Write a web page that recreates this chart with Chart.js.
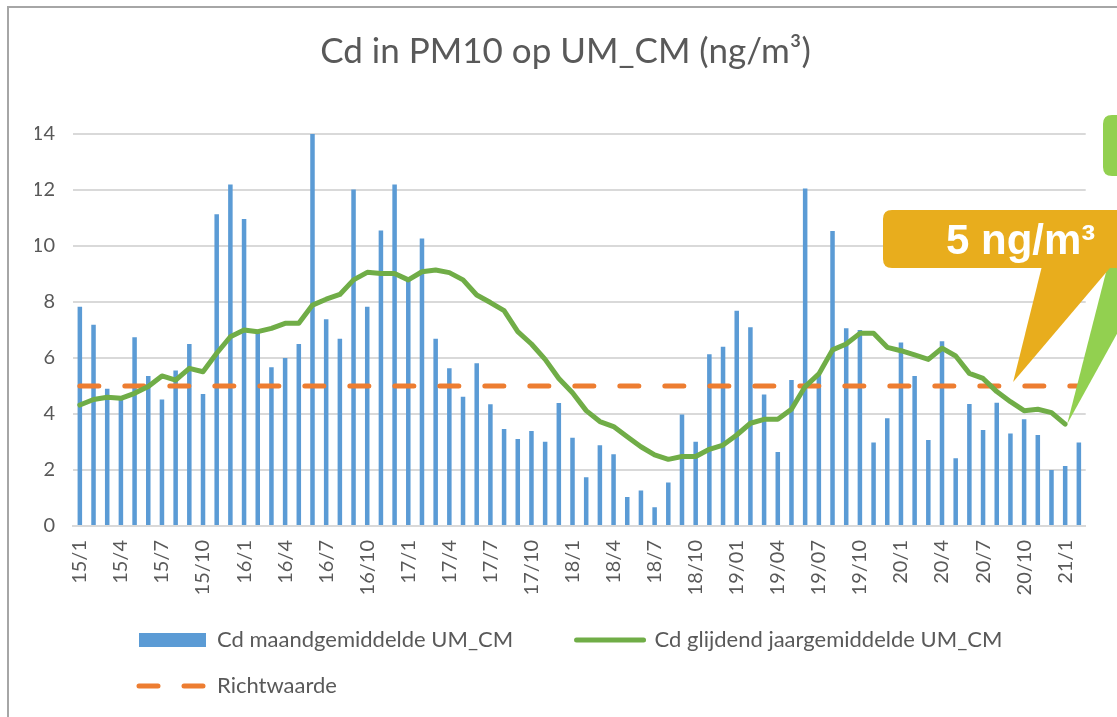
<!DOCTYPE html>
<html>
<head>
<meta charset="utf-8">
<script src="https://cdn.jsdelivr.net/npm/chart.js@4.4.0/dist/chart.umd.min.js"></script>
<style>
html,body{margin:0;padding:0;background:#ffffff;overflow:hidden}
canvas{display:block}
</style>
</head>
<body>
<canvas id="c" width="1117" height="717"></canvas>
<script>
// ---- data ----
const months = [
  '15/1','15/2','15/3','15/4','15/5','15/6','15/7','15/8','15/9','15/10','15/11','15/12',
  '16/1','16/2','16/3','16/4','16/5','16/6','16/7','16/8','16/9','16/10','16/11','16/12',
  '17/1','17/2','17/3','17/4','17/5','17/6','17/7','17/8','17/9','17/10','17/11','17/12',
  '18/1','18/2','18/3','18/4','18/5','18/6','18/7','18/8','18/9','18/10','18/11','18/12',
  '19/01','19/02','19/03','19/04','19/05','19/06','19/07','19/08','19/09','19/10','19/11','19/12',
  '20/1','20/2','20/3','20/4','20/5','20/6','20/7','20/8','20/9','20/10','20/11','20/12',
  '21/1','21/2'
];

const monthlyCd = [
  7.83, 7.19, 4.90, 4.64, 6.74, 5.36, 4.52, 5.55, 6.50, 4.71, 11.13, 12.20,
  10.96, 6.90, 5.67, 6.00, 6.50, 14.00, 7.38, 6.69, 12.02, 7.83, 10.55, 12.20,
  8.80, 10.27, 6.69, 5.63, 4.62, 5.81, 4.35, 3.46, 3.11, 3.39, 3.01, 4.39,
  3.15, 1.74, 2.88, 2.56, 1.04, 1.27, 0.67, 1.55, 3.98, 3.01, 6.13, 6.40,
  7.69, 7.10, 4.70, 2.64, 5.21, 12.05, 5.40, 10.54, 7.06, 7.00, 2.98, 3.85,
  6.55, 5.36, 3.07, 6.60, 2.42, 4.36, 3.43, 4.40, 3.30, 3.81, 3.25, 2.00,
  2.14, 2.98
];

const rollingCd = [
  4.32, 4.52, 4.60, 4.56, 4.74, 4.98, 5.36, 5.21, 5.63, 5.51, 6.17, 6.76,
  7.00, 6.94, 7.06, 7.24, 7.24, 7.89, 8.10, 8.27, 8.79, 9.06, 9.02, 9.02,
  8.79, 9.08, 9.14, 9.05, 8.79, 8.25, 7.98, 7.69, 6.94, 6.50, 5.95, 5.27,
  4.76, 4.12, 3.73, 3.55, 3.19, 2.83, 2.54, 2.38, 2.48, 2.48, 2.74, 2.89,
  3.25, 3.67, 3.81, 3.81, 4.17, 4.98, 5.43, 6.29, 6.50, 6.88, 6.88, 6.38,
  6.26, 6.11, 5.95, 6.35, 6.07, 5.45, 5.27, 4.80, 4.44, 4.12, 4.17, 4.05,
  3.64, null
];

const guideValue = [
  5, 5, 5, 5, 5, 5, 5, 5, 5, 5, 5, 5,
  5, 5, 5, 5, 5, 5, 5, 5, 5, 5, 5, 5,
  5, 5, 5, 5, 5, 5, 5, 5, 5, 5, 5, 5,
  5, 5, 5, 5, 5, 5, 5, 5, 5, 5, 5, 5,
  5, 5, 5, 5, 5, 5, 5, 5, 5, 5, 5, 5,
  5, 5, 5, 5, 5, 5, 5, 5, 5, 5, 5, 5,
  5, 5
];

const yTicks = [0, 2, 4, 6, 8, 10, 12, 14];
const seriesNames = ['Cd maandgemiddelde UM_CM', 'Cd glijdend jaargemiddelde UM_CM', 'Richtwaarde'];
const chartTitle = 'Cd in PM10 op UM_CM (ng/m³)';
const calloutText = '5 ng/m³';
const calloutGuideValue = 5;

// ---- styling ----
const FONT = "Lato, 'Noto Sans', 'Liberation Sans', sans-serif";
const TEXT = '#595959';
const GRID = '#D9D9D9';
Chart.defaults.font.family = FONT;
Chart.defaults.color = TEXT;

function roundRectPath(ctx, x, y, w, h, r) {
  ctx.beginPath();
  ctx.moveTo(x + r, y);
  ctx.lineTo(x + w - r, y);
  ctx.quadraticCurveTo(x + w, y, x + w, y + r);
  ctx.lineTo(x + w, y + h - r);
  ctx.quadraticCurveTo(x + w, y + h, x + w - r, y + h);
  ctx.lineTo(x + r, y + h);
  ctx.quadraticCurveTo(x, y + h, x, y + h - r);
  ctx.lineTo(x, y + r);
  ctx.quadraticCurveTo(x, y, x + r, y);
  ctx.closePath();
}

const decorPlugin = {
  id: 'decor',
  afterLayout(chart) {
    const lg = chart.legend;
    if (lg) {
      const h = lg.height;
      lg.left = 115;
      lg.top = 605;
      lg.bottom = 605 + h;
    }
  },
  beforeDraw(chart) {
    const ctx = chart.ctx;
    ctx.save();
    ctx.strokeStyle = '#A6A6A6';
    ctx.lineWidth = 2;
    ctx.strokeRect(8, 7, 1300, 900);
    ctx.restore();
  },
  afterDraw(chart) {
    const ctx = chart.ctx;
    const xs = chart.scales.x, ys = chart.scales.y;
    ctx.save();
    // green callout (cut off at the right edge)
    const lastIdx = rollingCd.length - 2;
    const gx = xs.getPixelForValue(lastIdx) + 2;
    const gy = ys.getPixelForValue(rollingCd[lastIdx]);
    ctx.fillStyle = '#92D050';
    roundRectPath(ctx, 1103, 115, 150, 61, 9);
    ctx.fill();
    ctx.beginPath();
    ctx.moveTo(gx, gy);
    ctx.lineTo(gx + 65, 170);
    ctx.lineTo(gx + 140, 170);
    ctx.closePath();
    ctx.fill();
    // orange callout
    const ox = xs.getPixelForValue(68.2);
    const oy = ys.getPixelForValue(calloutGuideValue) - 4;
    ctx.fillStyle = '#E8AD1D';
    roundRectPath(ctx, 883, 210, 260, 58, 9);
    ctx.fill();
    ctx.beginPath();
    ctx.moveTo(1043, 262);
    ctx.lineTo(ox, oy);
    ctx.lineTo(1115, 262);
    ctx.closePath();
    ctx.fill();
    ctx.fillStyle = '#FFFFFF';
    ctx.font = "bold 42px 'Liberation Sans', Arial, sans-serif";
    ctx.textAlign = 'left';
    ctx.textBaseline = 'alphabetic';
    ctx.fillText(calloutText, 946, 254);
    ctx.restore();
  }
};

const legendFont = { family: FONT, size: 22 };

new Chart(document.getElementById('c'), {
  type: 'bar',
  data: {
    labels: months,
    datasets: [
      {
        type: 'bar',
        label: seriesNames[0],
        data: monthlyCd,
        backgroundColor: '#5B9BD5',
        borderWidth: 0,
        barPercentage: 0.33,
        categoryPercentage: 1,
        order: 3
      },
      {
        type: 'line',
        label: seriesNames[1],
        data: rollingCd,
        borderColor: '#70AD47',
        backgroundColor: '#70AD47',
        borderWidth: 5,
        pointRadius: 0,
        pointHoverRadius: 0,
        tension: 0,
        borderJoinStyle: 'round',
        borderCapStyle: 'round',
        spanGaps: false,
        order: 1
      },
      {
        type: 'line',
        label: seriesNames[2],
        data: guideValue,
        borderColor: '#ED7D31',
        backgroundColor: '#ED7D31',
        borderWidth: 5,
        borderDash: [19, 26],
        borderCapStyle: 'round',
        pointRadius: 0,
        pointHoverRadius: 0,
        order: 2
      }
    ]
  },
  options: {
    responsive: false,
    animation: false,
    devicePixelRatio: 1,
    layout: { padding: { left: 35, right: 21, top: 0, bottom: 0 } },
    plugins: {
      tooltip: { enabled: false },
      title: {
        display: true,
        text: chartTitle,
        color: TEXT,
        font: { family: FONT, size: 35, weight: 'normal' },
        padding: { top: 31, bottom: 61 }
      },
      legend: {
        position: 'bottom',
        align: 'start',
        labels: {
          usePointStyle: true,
          pointStyleWidth: 67,
          boxHeight: 14,
          padding: 24,
          color: TEXT,
          font: legendFont,
          sort: (a, b) => a.datasetIndex - b.datasetIndex,
          generateLabels(chart) {
            const items = Chart.defaults.plugins.legend.labels.generateLabels(chart);
            const ctx = chart.ctx;
            ctx.save();
            ctx.font = legendFont.size + 'px ' + FONT;
            items.forEach(it => {
              const ds = chart.data.datasets[it.datasetIndex];
              if (it.datasetIndex === 0) {
                it.pointStyle = 'rect';
                it.lineWidth = 0;
                it.strokeStyle = 'rgba(0,0,0,0)';
                // widen first entry so the second entry starts where the reference has it
                let t = it.text;
                while (ctx.measureText(t).width < 333) t += '\u00a0';
                it.text = t;
              } else {
                it.pointStyle = 'line';
                it.lineWidth = ds.borderWidth;
                it.strokeStyle = ds.borderColor;
                it.lineDash = ds.borderDash || [];
                it.lineCap = 'round';
              }
            });
            ctx.restore();
            return items;
          }
        }
      }
    },
    scales: {
      x: {
        offset: true,
        grid: { display: false, drawTicks: false },
        border: { display: true, color: GRID, width: 2 },
        ticks: {
          autoSkip: false,
          minRotation: 90,
          maxRotation: 90,
          padding: 14,
          color: TEXT,
          font: { family: FONT, size: 20 },
          callback: (v, i) => (i % 3 === 0 ? months[i] : '')
        },
        afterFit: s => { s.height = 89; }
      },
      y: {
        min: 0,
        max: 14,
        afterBuildTicks: s => { s.ticks = yTicks.map(v => ({ value: v })); },
        grid: { color: GRID, lineWidth: 2, drawTicks: false },
        border: { display: false },
        ticks: {
          padding: 18,
          color: TEXT,
          font: { family: FONT, size: 20 }
        },
        afterFit: s => { s.width = 38; }
      }
    }
  },
  plugins: [decorPlugin]
});
</script>
</body>
</html>
